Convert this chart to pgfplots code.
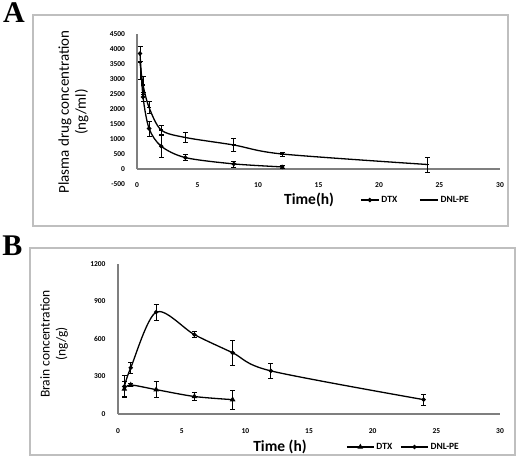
\documentclass[border=0pt]{standalone}
\usepackage{fontspec}
\setmainfont{Carlito}
\newfontfamily\panelfont{Liberation Serif}
\usepackage{pgfplots}
\pgfplotsset{compat=1.18}
\definecolor{axgray}{HTML}{7F7F7F}
\definecolor{frgray}{HTML}{BFBFBF}
\pgfplotsset{
  common/.style={
    scale only axis,
    axis line style={draw=none},
    major tick length=0pt,
    tick style={draw=none},
    /pgf/number format/assume math mode=true,
    /pgf/number format/1000 sep={},
    tick label style={font=\fontsize{7.5}{8}\selectfont\bfseries},
    clip=false,
    legend style={draw=none, fill=none, font=\fontsize{9.5}{10}\selectfont\bfseries, legend columns=2},
    every axis plot/.append style={black, line width=1.3pt},
    error bars/y dir=both, error bars/y explicit,
    error bars/error bar style={line width=0.8pt, black},
    error bars/error mark options={rotate=90, mark size=2.5pt, line width=0.8pt},
    ylabel style={anchor=center, align=center},
    xlabel style={anchor=center, font=\fontsize{15.5}{16}\selectfont\bfseries},
  }
}
\begin{document}
\begin{tikzpicture}
\useasboundingbox (0pt,0pt) rectangle (520pt,-466pt);
\draw[frgray, line width=1.5pt] (33pt,-15pt) rectangle (508pt,-226pt);
\draw[frgray, line width=1.5pt] (30pt,-248pt) rectangle (515pt,-455pt);
\node[inner sep=0pt, font=\panelfont\bfseries\fontsize{30}{30}\selectfont] at (14pt,-12.5pt) {A};
\node[inner sep=0pt, font=\panelfont\bfseries\fontsize{30}{30}\selectfont] at (12.5pt,-246pt) {B};

\begin{axis}[common, width=363pt, height=150pt, at={(137pt,-184pt)}, anchor=south west,
  xmin=0, xmax=30, ymin=-500, ymax=4500,
  xtick={0,5,...,30}, ytick={-500,0,...,4500},
  xticklabel style={anchor=center, yshift=-1.5pt},
  yticklabel style={anchor=east, xshift=-8.5pt},
  ylabel={Plasma drug concentration\\(ng/ml)},
  ylabel style={at={(axis description cs:-0.175,0.48)}, font=\fontsize{15}{17}\selectfont},
  xlabel={Time(h)},
  xlabel style={at={(axis description cs:0.474,-0.107)}},
  legend style={at={(axis description cs:0.606,-0.107)}, anchor=west,
    /tikz/every even column/.append style={column sep=20pt}},
  legend image code/.code={\draw[mark repeat=2,mark phase=2,#1] plot coordinates {(0pt,0pt)(9pt,0pt)(18pt,0pt)};},
]
\draw[axgray, line width=1.2pt] (axis cs:0,0) -- (axis cs:0,4500);
\draw[axgray, line width=1.2pt] (axis cs:0,0) -- (axis cs:30,0);
\addplot[smooth, mark=*, mark size=1.5pt] coordinates {
 (0.25,3850) +- (0,250)
 (0.5,2400) +- (0,150)
 (1,1350) +- (0,250)
 (2,760) +- (0,370)
 (4,380) +- (0,100)
 (8,170) +- (0,100)
 (12,70) +- (0,60)
};
\addlegendentry{DTX}
\addplot[smooth, mark=-, mark size=2pt] coordinates {
 (0.25,3550) +- (0,550)
 (0.5,2800) +- (0,300)
 (1,2050) +- (0,200)
 (2,1300) +- (0,150)
 (4,1050) +- (0,170)
 (8,800) +- (0,220)
 (12,500) +- (0,70)
 (24,150) +- (0,250)
};
\addlegendentry{DNL-PE}
\end{axis}

\begin{axis}[common, width=382pt, height=150pt, at={(118pt,-414pt)}, anchor=south west,
  xmin=0, xmax=30, ymin=0, ymax=1200,
  xtick={0,5,...,30}, ytick={0,300,...,1200},
  xticklabel style={anchor=center, yshift=-17pt},
  yticklabel style={anchor=east, xshift=-9pt},
  ylabel={Brain concentration\\(ng/g)},
  ylabel style={at={(axis description cs:-0.1675,0.467)}, font=\fontsize{13.5}{16}\selectfont},
  xlabel={Time (h)},
  xlabel style={at={(axis description cs:0.424,-0.22)}},
  legend style={at={(axis description cs:0.589,-0.22)}, anchor=west,
    /tikz/every even column/.append style={column sep=6pt}},
  legend image code/.code={\draw[mark repeat=2,mark phase=2,#1] plot coordinates {(0pt,0pt)(13.5pt,0pt)(27pt,0pt)};},
]
\draw[axgray, line width=1.2pt] (axis cs:0,0) -- (axis cs:0,1200);
\draw[axgray, line width=1.2pt] (axis cs:0,0) -- (axis cs:30,0);
\addplot[smooth, mark=triangle*, mark size=2pt] coordinates {
 (0.5,200) +- (0,60)
 (1,232) +- (0,15)
 (3,195) +- (0,65)
 (6,140) +- (0,35)
 (9,115) +- (0,75)
};
\addlegendentry{DTX}
\addplot[smooth, mark=*, mark size=1.5pt] coordinates {
 (0.5,220) +- (0,85)
 (1,370) +- (0,45)
 (3,815) +- (0,65)
 (6,635) +- (0,25)
 (9,490) +- (0,100)
 (12,345) +- (0,60)
 (24,115) +- (0,45)
};
\addlegendentry{DNL-PE}
\end{axis}
\end{tikzpicture}
\end{document}
